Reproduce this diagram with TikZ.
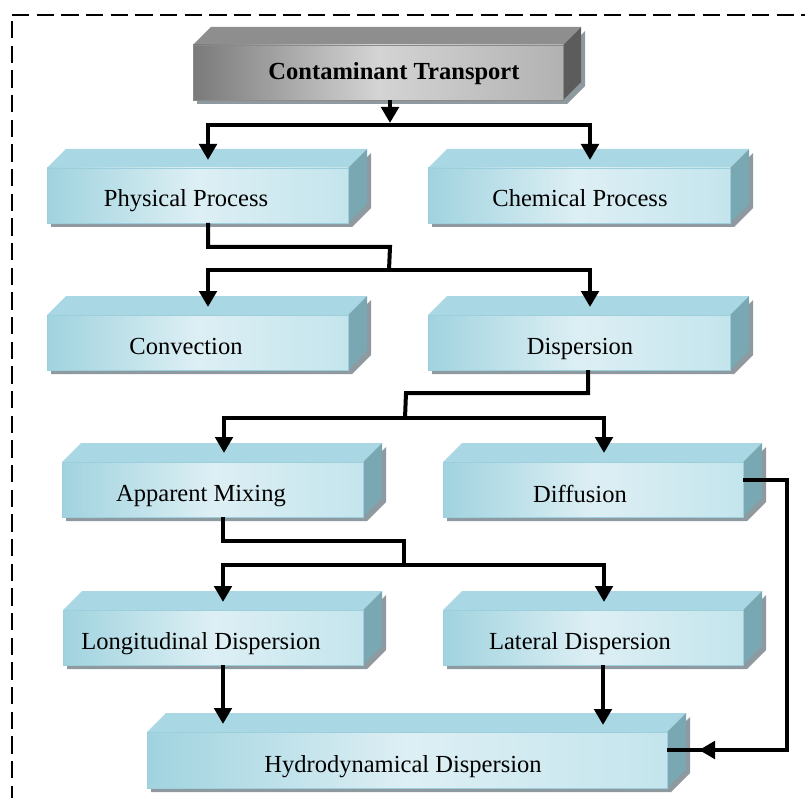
\documentclass[tikz,border=0pt]{standalone}
\usepackage{fontspec}
\setmainfont{Liberation Serif}
\usetikzlibrary{fit,calc,arrows.meta}
\definecolor{btop}{HTML}{A9D7E3}
\definecolor{bside}{HTML}{79A7B2}
\definecolor{bdark}{HTML}{A0D3DF}
\definecolor{blight}{HTML}{DDEFF4}
\definecolor{bright}{HTML}{C4E5ED}
\definecolor{bedge}{HTML}{9CCFDB}
\definecolor{gtop}{HTML}{8E8E8E}
\definecolor{gside}{HTML}{5C5C5C}
\definecolor{gdark}{HTML}{7A7A7A}
\definecolor{glight}{HTML}{D4D4D4}
\definecolor{gright}{HTML}{B2B2B2}
\definecolor{gedge}{HTML}{8A8A8A}
\definecolor{shad}{HTML}{8F9AA0}
\newcommand\boxthree[7]{%
 \fill[shad] (#2+4,#3+4) -- (#4+4,#3+4) -- (#4+4+#7,#3+4-#7) -- (#4+4+#7,#5+4-#7) -- (#4+4,#5+4) -- (#2+4,#5+4) -- cycle;
 \fill[#6top] (#2,#3) -- (#2+#7,#3-#7) -- (#4+#7,#3-#7) -- (#4,#3) -- cycle;
 \fill[#6side] (#4,#3) -- (#4+#7,#3-#7) -- (#4+#7,#5-#7) -- (#4,#5) -- cycle;
 \shade[left color=#6dark, right color=#6right, middle color=#6light] (#2,#3) rectangle (#4,#5);
 \node[fit={(#2,#3) (#4,#5)}, inner sep=0pt, outer sep=0pt, draw=#6edge, line width=0.6pt] (#1) {};
}
\tikzset{
 lbl/.style={anchor=base, inner sep=0pt, font=\fontsize{18.4}{22}\selectfont},
 conn/.style={line width=3pt, black},
 tip/.style={-{Triangle[length=12pt,width=13pt]}},
 tips/.style={{Triangle[length=12pt,width=13pt]}-{Triangle[length=12pt,width=13pt]}},
 frame/.style={line width=1.5pt, dash pattern=on 13pt off 5.5pt}
}
\begin{document}
\begin{tikzpicture}[x=0.75pt,y=-0.75pt]
\useasboundingbox (0,0) rectangle (805,798);
\draw[frame] (12,15) -- (805,15);
\draw[frame] (12,21) -- (12,798);
% boxes
\boxthree{ct}{193}{45}{563}{100}{g}{18}
\boxthree{pp}{47}{168}{348}{223}{b}{19}
\boxthree{cp}{428}{168}{730}{223}{b}{19}
\boxthree{cv}{47}{315}{348}{370}{b}{19}
\boxthree{dp}{428}{315}{730}{370}{b}{19}
\boxthree{am}{62}{462}{363}{517}{b}{19}
\boxthree{df}{443}{462}{743}{517}{b}{19}
\boxthree{ld}{63}{610}{363}{665}{b}{19}
\boxthree{lt}{443}{610}{743}{665}{b}{19}
\boxthree{hd}{147}{732}{667}{788}{b}{19}
% labels
\node[lbl, font=\fontsize{18.4}{22}\selectfont\bfseries] (ctt) at (394,80) {Contaminant Transport};
\node[lbl] (ppt) at (186,207) {Physical Process};
\node[lbl] (cpt) at (580,207) {Chemical Process};
\node[lbl] (cvt) at (186,354) {Convection};
\node[lbl] (dpt) at (580,354) {Dispersion};
\node[lbl] (amt) at (201,501) {Apparent Mixing};
\node[lbl] (dft) at (580,502) {Diffusion};
\node[lbl] (ldt) at (201,649) {Longitudinal Dispersion};
\node[lbl] (ltt) at (580,649) {Lateral Dispersion};
\node[lbl] (hdt) at (403,772) {Hydrodynamical Dispersion};
% connectors
\draw[conn,tip] (ct.south -| 390,0) -- (390,123);
\draw[conn,tips] ($(pp.north -| 208,0)+(0,-8)$) -- (208,125) -- (590,125) -- ($(cp.north -| 590,0)+(0,-8)$);
\draw[conn] (pp.south -| 208,0) -- (208,247) -- (390,247) -- (389,270);
\draw[conn,tips] ($(cv.north -| 208,0)+(0,-8)$) -- (208,270) -- (590,270) -- ($(dp.north -| 590,0)+(0,-8)$);
\draw[conn] (dp.south -| 588,0) -- (588,393) -- (406,393) -- (405,418);
\draw[conn,tips] ($(am.north -| 224,0)+(0,-9)$) -- (224,418) -- (604,418) -- ($(df.north -| 604,0)+(0,-9)$);
\draw[conn] (am.south -| 223,0) -- (223,541) -- (404,541) -- (404,565);
\draw[conn,tips] ($(ld.north -| 223,0)+(0,-8)$) -- (223,565) -- (604,565) -- ($(lt.north -| 604,0)+(0,-8)$);
\draw[conn,tip] (ld.south -| 223,0) -- ($(hd.north -| 223,0)+(0,-8)$);
\draw[conn,tip] (lt.south -| 603,0) -- ($(hd.north -| 603,0)+(0,-7)$);
\draw[conn] (df.east |- 0,480) -- (787,480) -- (787,750) -- (hd.east |- 0,750);
\draw[conn,tip] (740,750) -- (699,750);
\end{tikzpicture}
\end{document}
